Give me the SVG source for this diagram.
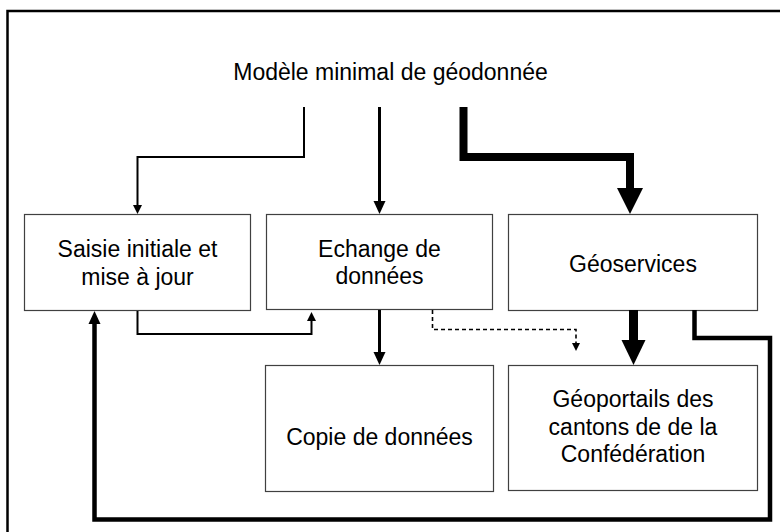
<svg xmlns="http://www.w3.org/2000/svg" width="780" height="532" viewBox="0 0 780 532">
  <style>
    .box { fill: #ffffff; stroke: #404040; stroke-width: 1.2; }
    .lbl { font-family: "Liberation Sans", Arial, sans-serif; font-size: 23px; fill: #000000; text-anchor: middle; }
    .ln { fill: none; stroke: #000000; stroke-linejoin: miter; }
    .head { fill: #000000; stroke: none; }
  </style>
  <rect width="780" height="532" fill="#ffffff"/>

  <!-- open outer frame -->
  <path d="M7.5,532 V11 H780" fill="none" stroke="#000000" stroke-width="2.5"/>

  <g id="title">
    <text class="lbl" x="390.5" y="80">Modèle minimal de géodonnée</text>
  </g>

  <g id="saisie">
    <rect class="box" x="24.5" y="214.5" width="226" height="96"/>
    <text class="lbl" x="137.5" y="257">Saisie initiale et</text>
    <text class="lbl" x="137.5" y="284.5">mise à jour</text>
  </g>

  <g id="echange">
    <rect class="box" x="266.5" y="214.5" width="226" height="95"/>
    <text class="lbl" x="379.5" y="257">Echange de</text>
    <text class="lbl" x="379.5" y="284">données</text>
  </g>

  <g id="geoservices">
    <rect class="box" x="508.5" y="214.5" width="249" height="96"/>
    <text class="lbl" x="633" y="271.5">Géoservices</text>
  </g>

  <g id="copie">
    <rect class="box" x="265.5" y="365.5" width="228" height="126"/>
    <text class="lbl" x="379.5" y="445">Copie de données</text>
  </g>

  <g id="geoportails">
    <rect class="box" x="508.5" y="365.5" width="249" height="125"/>
    <text class="lbl" x="633" y="407">Géoportails des</text>
    <text class="lbl" x="633" y="434.5">cantons de de la</text>
    <text class="lbl" x="633" y="462">Confédération</text>
  </g>

  <g id="connectors">
    <!-- model to Saisie -->
    <path class="ln" d="M304,107 V157 H137.5 V206" stroke-width="2"/>
    <path class="head" d="M133,205 H142 L137.5,214 Z"/>

    <!-- model to Echange -->
    <path class="ln" d="M379.5,107 V202" stroke-width="3"/>
    <path class="head" d="M373.5,201 H385.5 L379.5,214 Z"/>

    <!-- model to Geoservices -->
    <path class="ln" d="M463.5,107 V157 H630 V190" stroke-width="8" stroke-linejoin="round"/>
    <path class="head" d="M617,188 H643 L630,214 Z"/>

    <!-- Saisie to Echange -->
    <path class="ln" d="M137.5,311 V334 H311.5 V320" stroke-width="2"/>
    <path class="head" d="M307,321 H316 L311.5,312 Z"/>

    <!-- Echange to Copie -->
    <path class="ln" d="M379.5,310 V353" stroke-width="3"/>
    <path class="head" d="M373.5,352 H385.5 L379.5,365 Z"/>

    <!-- Echange to Geoportails (dashed) -->
    <path class="ln" d="M432.5,310 V329.5 H576 V344" stroke-width="1.6" stroke-dasharray="4,3"/>
    <path class="head" d="M572,343 H580 L576,351 Z"/>

    <!-- Geoservices to Geoportails -->
    <path class="ln" d="M633.5,310 V341" stroke-width="9"/>
    <path class="head" d="M621.5,340 H645.5 L633.5,365 Z"/>

    <!-- Geoservices back to Saisie -->
    <path class="ln" d="M694.5,310 V338 H770 V519.5 H94.5 V322" stroke-width="4.5"/>
    <path class="head" d="M88.5,324 H100.5 L94.5,311 Z"/>
  </g>
</svg>
